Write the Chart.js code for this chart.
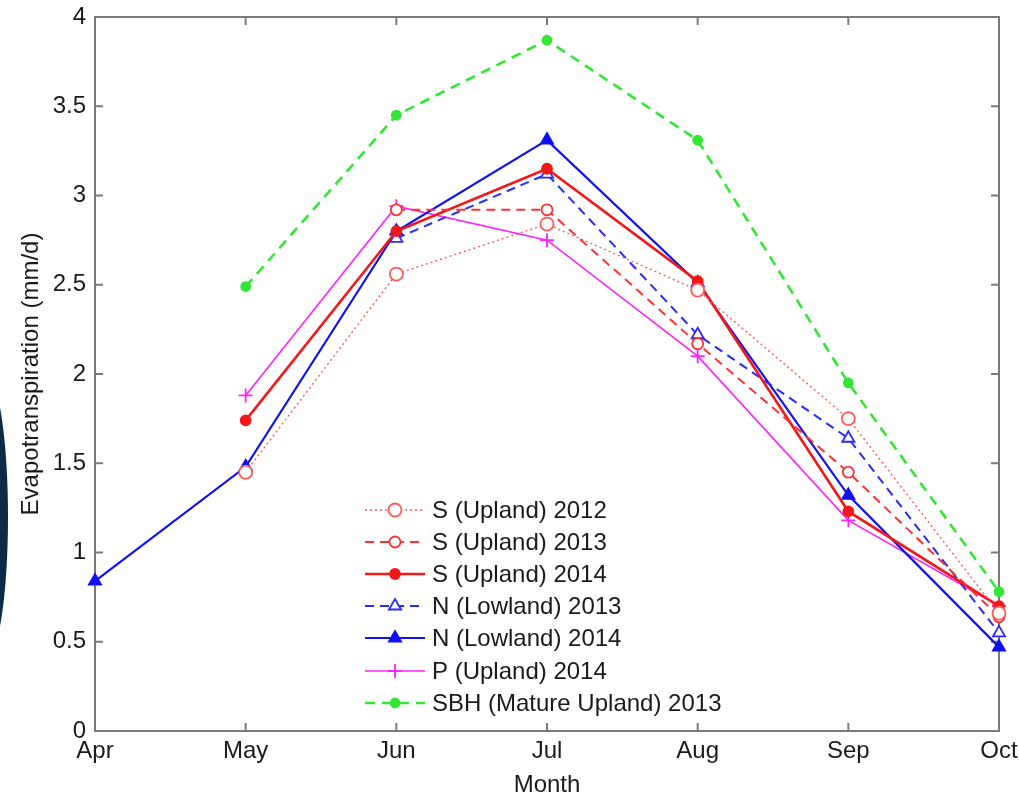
<!DOCTYPE html>
<html>
<head>
<meta charset="utf-8">
<script src="https://cdn.jsdelivr.net/npm/chart.js@4/dist/chart.umd.min.js"></script>
<style>
    body { margin: 0; background: #fff; }
    #wrap { position: relative; width: 1019px; height: 797px; }
    #blob { position: absolute; left: -34px; top: 378px; width: 42px; height: 278px; border-radius: 50%; background: #0c2b48; z-index: 2; }
</style>
</head>
<body>
<div id="wrap">
    <div id="blob"></div>
    <canvas id="chartET"></canvas>
</div>
<script>
    // months on the x axis
    const months = ['Apr', 'May', 'Jun', 'Jul', 'Aug', 'Sep', 'Oct']

    // evapotranspiration (mm/d) per series
    const sUpland2012 = [null, 1.45, 2.56, 2.84, 2.47, 1.75, 0.66]
    const sUpland2013 = [null, null, 2.92, 2.92, 2.17, 1.45, 0.64]
    const sUpland2014 = [null, 1.74, 2.80, 3.15, 2.52, 1.23, 0.70]
    const nLowland2013 = [null, null, 2.76, 3.12, 2.22, 1.64, 0.55]
    const nLowland2014 = [0.84, 1.48, 2.80, 3.31, 2.51, 1.32, 0.47]
    const pUpland2014 = [null, 1.88, 2.94, 2.75, 2.10, 1.18, 0.70]
    const sbhMature2013 = [null, 2.49, 3.45, 3.87, 3.31, 1.95, 0.78]

    const seriesLabels = [
        'S (Upland) 2012',
        'S (Upland) 2013',
        'S (Upland) 2014',
        'N (Lowland) 2013',
        'N (Lowland) 2014',
        'P (Upland) 2014',
        'SBH (Mature Upland) 2013'
    ]

    const FONT = '"Liberation Sans", Arial, Helvetica, sans-serif'
    const AXIS = '#7a7a7a'
    const TXT = '#1a1a1a'

    const mkSet = (label, data, color, dash, width, style, radius, fill) => ({
        label: label,
        data: data,
        borderColor: color,
        borderWidth: width,
        borderDash: dash,
        pointStyle: style,
        pointRadius: radius,
        pointBorderWidth: 1.8,
        pointBorderColor: color,
        pointBackgroundColor: fill,
        tension: 0,
        clip: false,
        spanGaps: false
    })

    const datasets = [
        mkSet(seriesLabels[0], sUpland2012, '#ff5a5a', [2, 3], 1.4, 'circle', 6.5, '#fff'),
        mkSet(seriesLabels[1], sUpland2013, '#ff3030', [9, 6], 2, 'circle', 5.5, '#fff'),
        mkSet(seriesLabels[2], sUpland2014, '#f01818', [], 2.6, 'circle', 5, '#f01818'),
        mkSet(seriesLabels[3], nLowland2013, '#2a2aff', [9, 6], 2, 'triangle', 7, '#fff'),
        mkSet(seriesLabels[4], nLowland2014, '#1010f0', [], 2.2, 'triangle', 7, '#1010f0'),
        mkSet(seriesLabels[5], pUpland2014, '#ff22ff', [], 1.6, 'cross', 7, '#ff22ff'),
        mkSet(seriesLabels[6], sbhMature2013, '#33e633', [10, 7], 2.6, 'circle', 4.5, '#33e633')
    ]

    // box round the plot with inward ticks (matlab style)
    const boxPlugin = {
        id: 'boxPlugin',
        beforeDatasetsDraw(chart) {
            const { ctx, chartArea: a, scales } = chart
            const tl = 8
            ctx.save()
            ctx.strokeStyle = AXIS
            ctx.lineWidth = 2
            ctx.strokeRect(a.left, a.top, a.right - a.left, a.bottom - a.top)
            ctx.beginPath()
            scales.x.ticks.forEach((t, i) => {
                const px = scales.x.getPixelForTick(i)
                ctx.moveTo(px, a.bottom); ctx.lineTo(px, a.bottom - tl)
                ctx.moveTo(px, a.top); ctx.lineTo(px, a.top + tl)
            })
            scales.y.ticks.forEach((t, i) => {
                const py = scales.y.getPixelForTick(i)
                ctx.moveTo(a.left, py); ctx.lineTo(a.left + tl, py)
                ctx.moveTo(a.right, py); ctx.lineTo(a.right - tl, py)
            })
            ctx.stroke()
            ctx.restore()
        }
    }

    // legend drawn inside the plot, line sample + marker
    const legendPlugin = {
        id: 'legendPlugin',
        afterDraw(chart) {
            const ctx = chart.ctx
            const x0 = 365, x1 = 425, xm = 395, xt = 432
            const rows = [510, 542, 574, 606, 638, 671, 703]
            ctx.save()
            chart.data.datasets.forEach((ds, i) => {
                const y = rows[i]
                ctx.strokeStyle = ds.borderColor
                ctx.lineWidth = ds.borderWidth
                ctx.setLineDash(ds.borderDash)
                ctx.beginPath()
                ctx.moveTo(x0, y); ctx.lineTo(x1, y)
                ctx.stroke()
                ctx.setLineDash([])
                ctx.fillStyle = ds.pointBackgroundColor
                ctx.strokeStyle = ds.pointBorderColor
                ctx.lineWidth = ds.pointBorderWidth
                Chart.helpers.drawPoint(ctx, {
                    pointStyle: ds.pointStyle,
                    rotation: 0,
                    radius: ds.pointRadius,
                    borderWidth: ds.pointBorderWidth
                }, xm, y)
                ctx.fillStyle = TXT
                ctx.font = '24px ' + FONT
                ctx.textBaseline = 'middle'
                ctx.textAlign = 'left'
                ctx.fillText(ds.label, xt, y + 1)
            })
            ctx.restore()
        }
    }

    document.addEventListener('DOMContentLoaded', function() {

        const chartElem = document.getElementById('chartET')

        new Chart(chartElem.getContext('2d'), {
            type: 'line',
            data: {
                labels: months,
                datasets: datasets
            },
            options: {
                responsive: true,
                maintainAspectRatio: false,
                animation: false,
                layout: { padding: { top: 17, right: 20, left: 0, bottom: 0 } },
                plugins: {
                    legend: { display: false },
                    tooltip: { enabled: false }
                },
                scales: {
                    x: {
                        grid: { display: false, drawTicks: false },
                        border: { display: false },
                        ticks: {
                            color: TXT,
                            padding: 6,
                            maxRotation: 0,
                            font: { family: FONT, size: 24 }
                        },
                        title: {
                            display: true,
                            text: 'Month',
                            color: TXT,
                            padding: { top: 0, bottom: 0 },
                            font: { family: FONT, size: 24, lineHeight: 1 }
                        },
                        afterFit: (scale) => {
                            scale.height = 66
                            scale.paddingLeft = 0
                            scale.paddingRight = 0
                        }
                    },
                    y: {
                        min: 0,
                        max: 4,
                        grid: { display: false, drawTicks: false },
                        border: { display: false },
                        ticks: {
                            stepSize: 0.5,
                            color: TXT,
                            padding: 9,
                            font: { family: FONT, size: 24 },
                            callback: (v) => String(v)
                        },
                        title: {
                            display: true,
                            text: 'Evapotranspiration (mm/d)',
                            color: TXT,
                            padding: { top: 19, bottom: 0 },
                            font: { family: FONT, size: 24, lineHeight: 1 }
                        },
                        afterFit: (scale) => {
                            scale.width = 95
                            scale.paddingTop = 0
                            scale.paddingBottom = 0
                        }
                    }
                }
            },
            plugins: [boxPlugin, legendPlugin]
        })
    })
</script>
</body>
</html>
